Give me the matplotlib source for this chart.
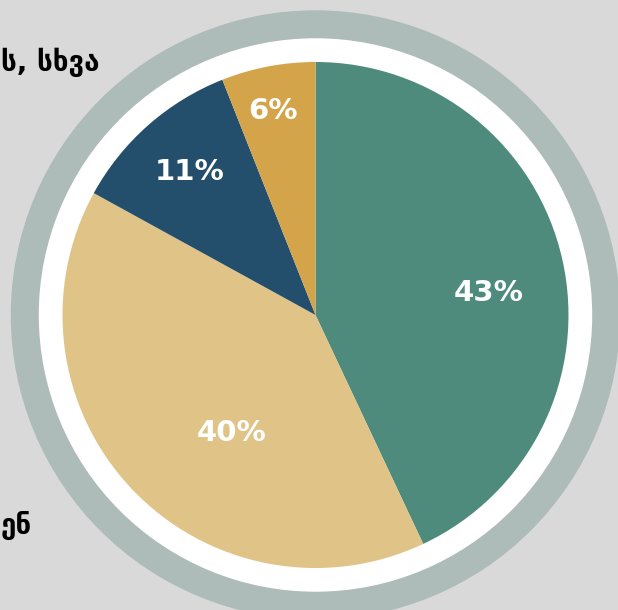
import matplotlib
matplotlib.use("Agg")
import matplotlib.pyplot as plt
from matplotlib.patches import Circle

# shares, clockwise from 12 o'clock
shares = [43, 40, 11, 6]
pct_labels = ["43%", "40%", "11%", "6%"]
colors = ["#4e8b7c", "#e0c386", "#234e6c", "#d4a44a"]

# legend texts, cut off by the left edge in the source
side_labels = ["ს, სხვა", "ენ"]

# label spots in pie-radius units (hand-placed in the source)
label_pos = [(0.685, 0.085), (-0.332, -0.465), (-0.496, 0.567), (-0.167, 0.806)]
side_pos = [(-1.243, 1.0), (-1.243, -0.83)]

bg = "#d9d9d9"

fig = plt.figure(figsize=(6.18, 6.10), dpi=100, facecolor=bg)
ax = fig.add_axes([0, 0, 1, 1])
ax.set_facecolor(bg)

# outer rings
ax.add_patch(Circle((0, 0), 1.2016, color="#adbcb8", zorder=0))
ax.add_patch(Circle((0, 0), 1.091, color="white", zorder=1))

wedges, _ = ax.pie(shares, colors=colors, startangle=90, counterclock=False,
                   radius=1.0, center=(0, 0), frame=True,
                   wedgeprops=dict(linewidth=0, zorder=2))
ax.set_xlim(-1.247, 1.1957)
ax.set_ylim(-1.166, 1.245)
ax.set_aspect("auto")
ax.axis("off")

for txt, (x, y) in zip(pct_labels, label_pos):
    ax.text(x, y, txt, color="white", fontsize=21, fontweight="bold",
            family=["DejaVu Sans"], ha="center", va="center", zorder=5)

for txt, (x, y) in zip(side_labels, side_pos):
    ax.text(x, y, txt, color="black", fontsize=20, fontweight="bold",
            family=["DejaVu Sans"], ha="left", va="center", zorder=5)

fig.savefig("out.png", dpi=100, facecolor=bg)
